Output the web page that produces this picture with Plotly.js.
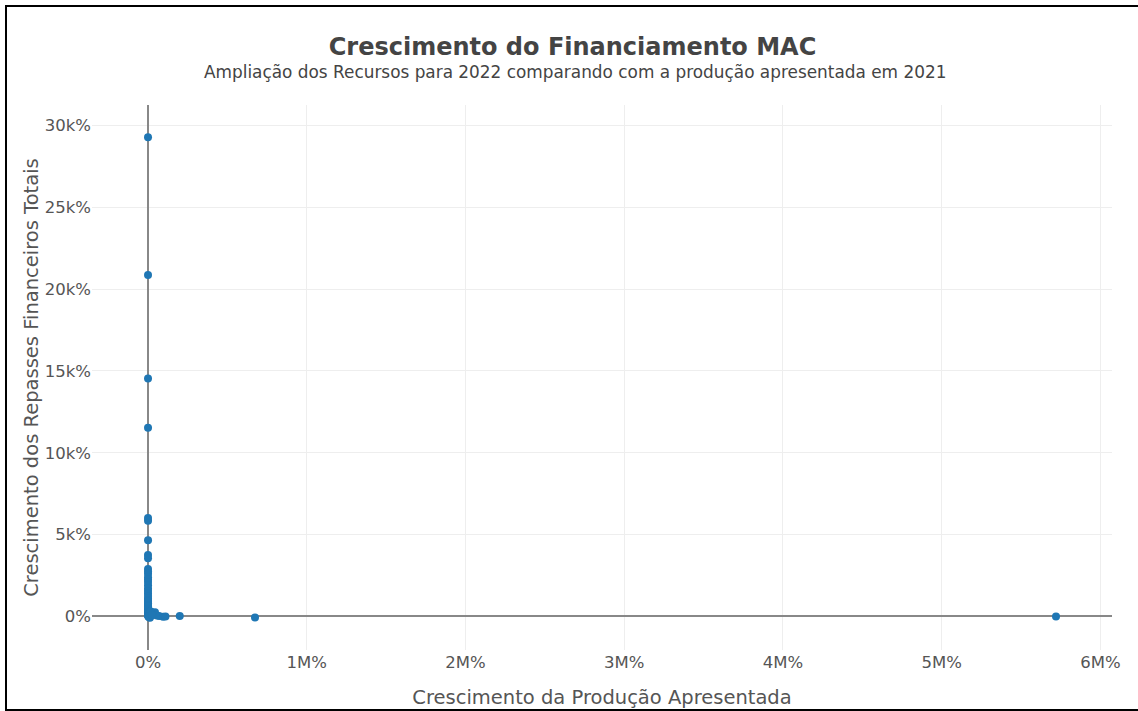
<!DOCTYPE html>
<html>
<head>
<meta charset="utf-8">
<script src="https://cdn.plot.ly/plotly-3.0.1.min.js"></script>
<style>
html,body{margin:0;padding:0;background:#fff;overflow:hidden;width:1138px;height:711px;}
#frame{position:absolute;left:5px;top:5px;width:1133px;height:702px;border-top:2px solid #000;border-left:2px solid #000;border-bottom:2px solid #000;overflow:hidden;}
#chart{position:absolute;left:0;top:0;width:1131px;height:702px;}
</style>
</head>
<body>
<div id="frame"><div id="chart"></div></div>
<script>
// Crescimento da Produção Apresentada (%)
var producaoX = [
  -40, 15, 60, 120, 35, 80, 200, -20, 10, 50,
  90, 150, 25, 5, 70, 110, 40, -60, 30, 180,
  20, 100, 55, 8, -10, 140, 65, 45, 12, 300,
  250, 400, -80, 600, 900, 1500, 2500, 5000, 8000, 12000,
  30000, 44000, 55000, 70000, 95000, 110000, 200000, 674000, 5720000, 18000,
  22000, 26000
];
// Crescimento dos Repasses Financeiros Totais (%)
var repassesY = [
  29270, 20860, 14540, 11530, 6010, 5850, 4660, 3750, 3550, 2900,
  2750, 2600, 2400, 2250, 2100, 1900, 1700, 1550, 1400, 1250,
  1100, 1000, 900, 800, 700, 600, 500, 420, 350, 280,
  220, 160, 120, 80, 50, 20, 0, -20, -50, -80,
  150, 250, 60, 20, -20, 0, 20, -60, 0, 300,
  120, 80
];

var trace = {
  type: 'scatter',
  mode: 'markers',
  x: producaoX,
  y: repassesY,
  marker: {color: '#1f77b4', size: 8},
  hoverinfo: 'x+y'
};

var layout = {
  width: 1131,
  height: 702,
  margin: {l: 85, r: 26, t: 98, b: 59},
  paper_bgcolor: '#fff',
  plot_bgcolor: '#fff',
  font: {family: 'DejaVu Sans', color: '#555'},
  title: {
    text: '<b>Crescimento do Financiamento MAC</b>',
    font: {family: 'DejaVu Sans', size: 24, color: '#444'},
    x: 0.5, xref: 'container', xanchor: 'center',
    y: 0.943, yref: 'container', yanchor: 'middle'
  },
  annotations: [{
    text: 'Ampliação dos Recursos para 2022 comparando com a produção apresentada em 2021',
    xref: 'paper', yref: 'paper', x: 0.4735, y: 1.0606,
    xanchor: 'center', yanchor: 'middle', showarrow: false,
    font: {family: 'DejaVu Sans', size: 16.9, color: '#444'}
  }],
  xaxis: {
    title: {text: 'Crescimento da Produção Apresentada', font: {family: 'DejaVu Sans', size: 19.5, color: '#555'}},
    ticksuffix: '%',
    tickfont: {family: 'DejaVu Sans', size: 16.5, color: '#555'},
    showgrid: true, gridcolor: '#eeeeee', gridwidth: 1,
    zeroline: true, zerolinecolor: '#888', zerolinewidth: 2,
    showline: false, ticks: '',
    automargin: false
  },
  yaxis: {
    title: {text: 'Crescimento dos Repasses Financeiros Totais', font: {family: 'DejaVu Sans', size: 19.5, color: '#555'}},
    ticksuffix: '%',
    tickfont: {family: 'DejaVu Sans', size: 16.5, color: '#555'},
    showgrid: true, gridcolor: '#eeeeee', gridwidth: 1,
    zeroline: true, zerolinecolor: '#888', zerolinewidth: 2,
    showline: false, ticks: '',
    automargin: false
  },
  showlegend: false
};

Plotly.newPlot('chart', [trace], layout, {displayModeBar: false, responsive: false});
</script>
</body>
</html>
